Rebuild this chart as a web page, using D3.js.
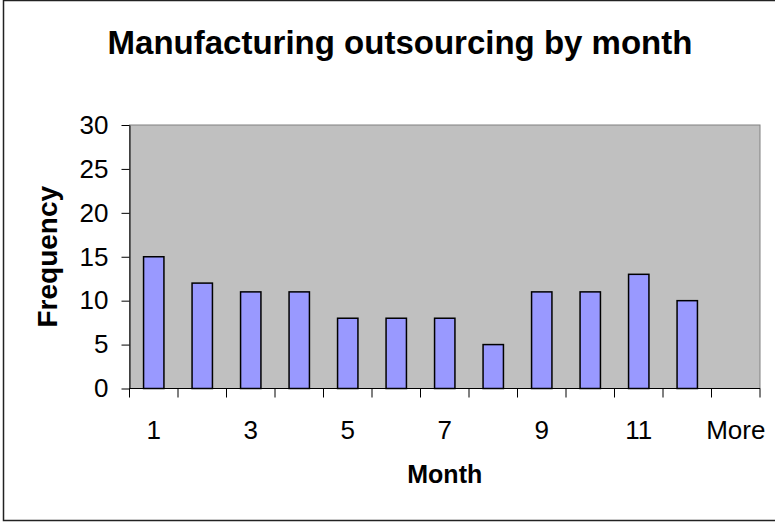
<!DOCTYPE html>
<html>
<head>
<meta charset="utf-8">
<script src="https://cdn.jsdelivr.net/npm/d3@7"></script>
<style>
  body { margin: 0; background: #fff; }
  text { font-family: "Liberation Sans", Arial, sans-serif; fill: #000; }
</style>
</head>
<body>
<svg id="chart" width="775" height="523"></svg>
<script>
// Histogram bins and counts.
const months = ['1', '2', '3', '4', '5', '6', '7', '8', '9', '10', '11', '12', 'More'];
const frequency = [15, 12, 11, 11, 8, 8, 8, 5, 11, 11, 13, 10, 0];
const yTicks = [0, 5, 10, 15, 20, 25, 30];

const data = months.map((m, i) => ({ month: m, count: frequency[i] }));

const margin = { top: 125, right: 15, bottom: 135, left: 129.5 };
const width = 760 - margin.left;
const height = 388.5 - margin.top;

const svg = d3.select('#chart');

// Outer chart frame.
svg.append('rect')
  .attr('x', 3.5)
  .attr('y', 0.5)
  .attr('width', 800)
  .attr('height', 520)
  .attr('fill', '#fff')
  .attr('stroke', '#222')
  .attr('stroke-width', 1.5);

const g = svg.append('g')
  .attr('transform', `translate(${margin.left}, ${margin.top})`);

// Scales.
const x = d3.scaleBand()
  .domain(months)
  .range([0, width]);

const y = d3.scaleLinear()
  .domain([0, 30])
  .range([height, 0]);

// Plot area.
g.append('rect')
  .attr('width', width)
  .attr('height', height)
  .attr('fill', '#c0c0c0')
  .attr('stroke', '#808080')
  .attr('stroke-width', 1);

// Bars.
const barW = x.bandwidth() * 0.42;
g.selectAll('.bar')
  .data(data)
  .join('rect')
  .attr('class', 'bar')
  .attr('x', d => x(d.month) + (x.bandwidth() - barW) / 2)
  .attr('y', d => y(d.count))
  .attr('width', barW)
  .attr('height', d => height - y(d.count))
  .attr('fill', '#9999ff')
  .attr('stroke', '#000')
  .attr('stroke-width', 1.5);

// Y axis.
const yAxis = g.append('g')
  .call(d3.axisLeft(y).tickValues(yTicks).tickSize(8).tickSizeOuter(0).tickPadding(13));
yAxis.select('.domain').attr('stroke', '#000').attr('stroke-width', 1);
yAxis.selectAll('line').attr('stroke', '#000');
yAxis.selectAll('text')
  .style('font-family', '"Liberation Sans", Arial, sans-serif')
  .style('font-size', '26px')
  .attr('fill', '#000');

// X axis: ticks at bin boundaries, labels on every other bin.
g.append('line')
  .attr('x1', 0)
  .attr('x2', width)
  .attr('y1', height)
  .attr('y2', height)
  .attr('stroke', '#000')
  .attr('stroke-width', 1);

const bounds = months.map(m => x(m)).concat([width]);
g.selectAll('.xtick')
  .data(bounds)
  .join('line')
  .attr('class', 'xtick')
  .attr('x1', d => d)
  .attr('x2', d => d)
  .attr('y1', height)
  .attr('y2', height + 9)
  .attr('stroke', '#000');

g.selectAll('.xlabel')
  .data(months.filter((m, i) => i % 2 === 0))
  .join('text')
  .attr('class', 'xlabel')
  .attr('x', d => x(d) + x.bandwidth() / 2)
  .attr('y', height + 50)
  .attr('text-anchor', 'middle')
  .style('font-size', '26px')
  .text(d => d);

// Titles.
svg.append('text')
  .attr('x', 400)
  .attr('y', 54)
  .attr('text-anchor', 'middle')
  .style('font-size', '33px')
  .style('font-weight', 'bold')
  .text('Manufacturing outsourcing by month');

svg.append('text')
  .attr('x', margin.left + width / 2)
  .attr('y', 483)
  .attr('text-anchor', 'middle')
  .style('font-size', '25px')
  .style('font-weight', 'bold')
  .text('Month');

svg.append('text')
  .attr('transform', `translate(57, ${margin.top + height / 2}) rotate(-90)`)
  .attr('text-anchor', 'middle')
  .style('font-size', '28px')
  .style('font-weight', 'bold')
  .text('Frequency');
</script>
</body>
</html>
